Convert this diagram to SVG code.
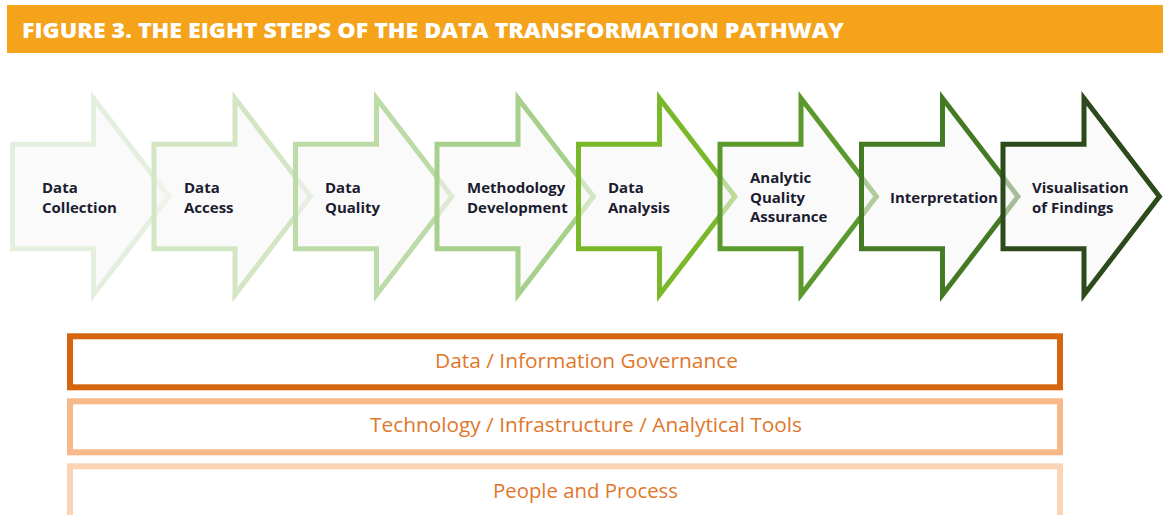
<svg xmlns="http://www.w3.org/2000/svg" xmlns:xlink="http://www.w3.org/1999/xlink" width="1163" height="515" viewBox="0 0 1163 515">
  <style>
    .title { font-family: "Open Sans", "Liberation Sans", sans-serif; font-weight: 800; font-size: 21px; fill: #ffffff; }
    .step { fill: #f6f6f6; fill-opacity: 0.55; stroke-width: 5; stroke-linejoin: miter; }
    .label { font-family: "Open Sans", "Liberation Sans", sans-serif; font-weight: 700; font-size: 15px; fill: #1c1c30; }
    .band { fill: #ffffff; stroke-width: 6; }
    .band-text { font-family: "Open Sans", "Liberation Sans", sans-serif; font-size: 20.8px; fill: #e0772b; text-anchor: middle; }
  </style>
  <defs>
    <!-- block arrow outline, drawn on its stroke centreline -->
    <path id="chevron" d="M2.5,144.2 H83.5 V98.3 L158.9,196.5 L83.5,294.7 V248.8 H2.5 Z"/>
  </defs>

  <rect width="1163" height="515" fill="#ffffff"/>

  <!-- heading bar -->
  <g id="heading">
    <rect x="7" y="5" width="1156" height="48" fill="#f4a31b"/>
    <text class="title" x="22" y="37.5" textLength="822" lengthAdjust="spacingAndGlyphs">FIGURE 3. THE EIGHT STEPS OF THE DATA TRANSFORMATION PATHWAY</text>
  </g>

  <!-- the eight steps -->
  <g id="step-collection">
    <use xlink:href="#chevron" class="step" stroke="#e4efdd" transform="translate(10,0)"/>
    <text class="label" x="42" y="193">Data</text>
    <text class="label" x="42" y="213">Collection</text>
  </g>
  <g id="step-access">
    <use xlink:href="#chevron" class="step" stroke="#d2e6c4" transform="translate(151.5,0)"/>
    <text class="label" x="184" y="193">Data</text>
    <text class="label" x="184" y="213">Access</text>
  </g>
  <g id="step-quality">
    <use xlink:href="#chevron" class="step" stroke="#bddba7" transform="translate(293,0)"/>
    <text class="label" x="325" y="193">Data</text>
    <text class="label" x="325" y="213">Quality</text>
  </g>
  <g id="step-methodology">
    <use xlink:href="#chevron" class="step" stroke="#a6d08b" transform="translate(434.5,0)"/>
    <text class="label" x="467" y="193">Methodology</text>
    <text class="label" x="467" y="213">Development</text>
  </g>
  <g id="step-analysis">
    <use xlink:href="#chevron" class="step" stroke="#78b829" transform="translate(576,0)"/>
    <text class="label" x="608" y="193">Data</text>
    <text class="label" x="608" y="213">Analysis</text>
  </g>
  <g id="step-assurance">
    <use xlink:href="#chevron" class="step" stroke="#5c992c" transform="translate(717.5,0)"/>
    <text class="label" x="750" y="183">Analytic</text>
    <text class="label" x="750" y="202.5">Quality</text>
    <text class="label" x="750" y="222">Assurance</text>
  </g>
  <g id="step-interpretation">
    <use xlink:href="#chevron" class="step" stroke="#457a25" transform="translate(859,0)"/>
    <text class="label" x="890" y="203">Interpretation</text>
  </g>
  <g id="step-visualisation">
    <use xlink:href="#chevron" class="step" stroke="#2c4a1b" transform="translate(1000.5,0)"/>
    <text class="label" x="1032" y="193">Visualisation</text>
    <text class="label" x="1032" y="213">of Findings</text>
  </g>

  <!-- the three supporting layers -->
  <g id="layer-governance">
    <rect class="band" x="70" y="336.3" width="990" height="51" stroke="#d5660f"/>
    <text class="band-text" x="586.5" y="367.5" textLength="303" lengthAdjust="spacingAndGlyphs">Data / Information Governance</text>
  </g>
  <g id="layer-technology">
    <rect class="band" x="70" y="401.3" width="990" height="51" stroke="#f7b98a"/>
    <text class="band-text" x="586" y="431.5" textLength="432" lengthAdjust="spacingAndGlyphs">Technology / Infrastructure / Analytical Tools</text>
  </g>
  <g id="layer-people">
    <rect class="band" x="70" y="466.3" width="990" height="60" stroke="#fbd4b6"/>
    <text class="band-text" x="585.5" y="497.5" textLength="185" lengthAdjust="spacingAndGlyphs">People and Process</text>
  </g>

  <!-- no separate connectors: the steps abut one another -->
  <g id="connectors"/>
</svg>
